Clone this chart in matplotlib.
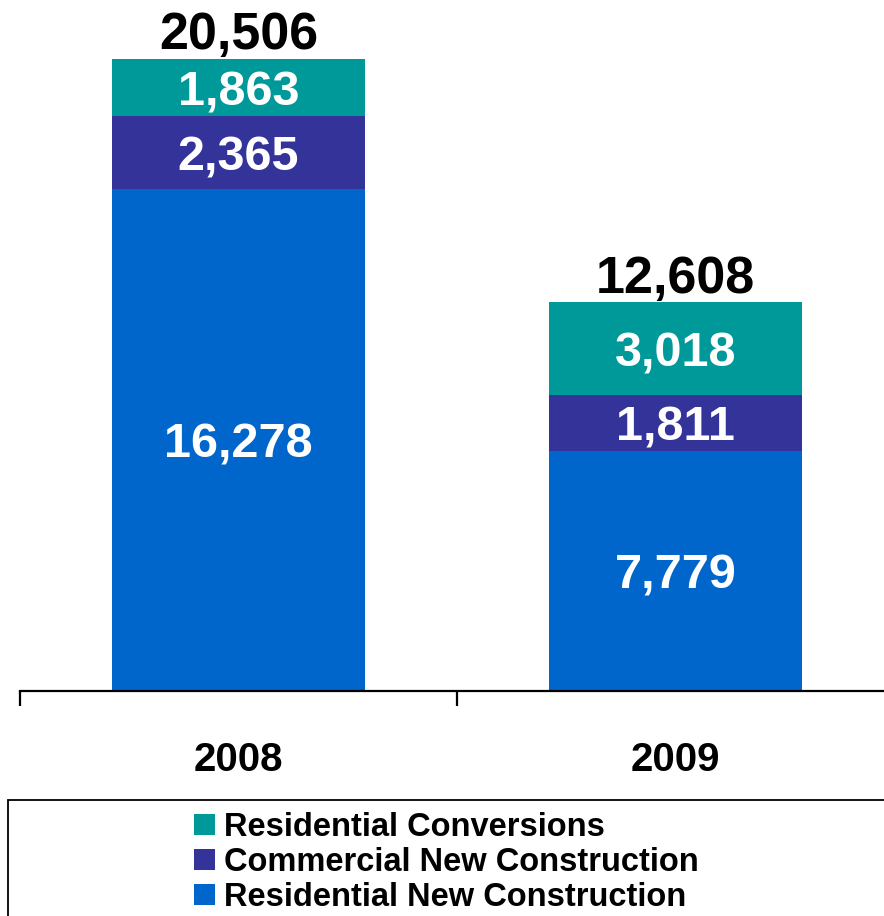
import numpy as np
import matplotlib.pyplot as plt
from matplotlib.patches import Rectangle

plt.rcParams['font.family'] = ['Liberation Sans', 'DejaVu Sans']
plt.rcParams['font.weight'] = 'bold'

years = ['2008', '2009']
series_names = ['Residential New Construction', 'Commercial New Construction', 'Residential Conversions']
residential_new = [16278, 7779]
commercial_new = [2365, 1811]
residential_conv = [1863, 3018]
totals = [20506, 12608]
colors = ['#0066CC', '#333399', '#009999']

fig = plt.figure(figsize=(8.84, 9.16), dpi=100)
ax = fig.add_axes([20 / 884, 225 / 916, 874 / 884, 691 / 916])

x = np.arange(len(years))
width = 0.577
bottom = np.zeros(len(years))
bars = []
for name, vals, col in zip(series_names, [residential_new, commercial_new, residential_conv], colors):
    b = ax.bar(x, vals, width, bottom=bottom, color=col, label=name, linewidth=0)
    bars.append(b)
    # value labels centred in each segment
    for xi, v, b0 in zip(x, vals, bottom):
        ax.text(xi, b0 + v / 2, f'{v:,}', ha='center', va='center_baseline',
                color='white', fontsize=35, fontweight='bold')
    bottom = bottom + np.array(vals)

# totals above the stacks
for xi, t in zip(x, totals):
    ax.annotate(f'{t:,}', xy=(xi, t), xytext=(0, 7), textcoords='offset points',
                ha='center', va='baseline', fontsize=37.5, fontweight='bold', color='black')

ax.set_xlim(-0.5, 1.5)
ax.set_ylim(0, 22420)

for s in ['top', 'right', 'left']:
    ax.spines[s].set_visible(False)
ax.spines['bottom'].set_linewidth(1.6)
ax.set_yticks([])

# category boundaries get the tick marks, labels sit between them
ax.set_xticks([-0.5, 0.5, 1.5])
ax.set_xticklabels([])
ax.tick_params(axis='x', which='major', direction='out', length=11, width=1.6)
ax.set_xticks(x, minor=True)
ax.set_xticklabels(years, minor=True, fontsize=29, fontweight='bold')
ax.tick_params(axis='x', which='minor', length=0, pad=36)

# legend box
fig.patches.append(Rectangle((8 / 884, -0.05), 1.0, 1 - 800 / 916 + 0.05,
                             transform=fig.transFigure, fill=False,
                             edgecolor='black', linewidth=1.3))
handles = [bars[2], bars[1], bars[0]]
labels = [series_names[2], series_names[1], series_names[0]]
fig.legend(handles, labels, loc='upper left', bbox_to_anchor=(194 / 884, 1 - 812 / 916),
           frameon=False, borderpad=0, borderaxespad=0, handlelength=0.64,
           handleheight=0.6, handletextpad=0.27, labelspacing=0.12,
           prop={'size': 23.5, 'weight': 'bold'})

fig.savefig('out.png', dpi=100)
